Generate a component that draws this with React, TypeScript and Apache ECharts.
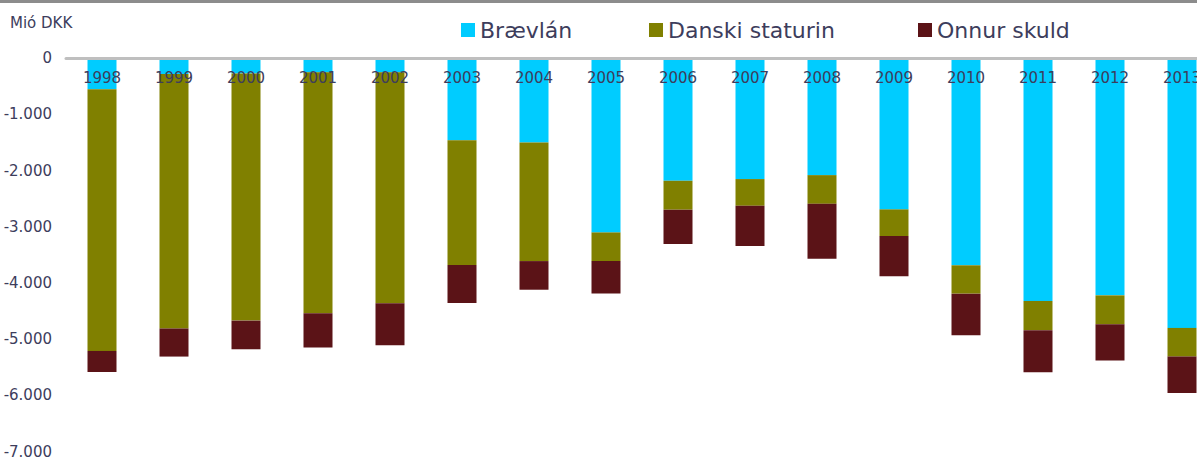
import React, { useEffect, useRef } from "react";
import * as echarts from "echarts";

const years = ["1998","1999","2000","2001","2002","2003","2004","2005","2006","2007","2008","2009","2010","2011","2012","2013"];
const braevlan = [-550, -280, -270, -250, -250, -1460, -1500, -3100, -2180, -2150, -2080, -2690, -3685, -4320, -4220, -4800];
const danskiStaturin = [-4660, -4530, -4400, -4290, -4110, -2220, -2110, -510, -515, -475, -510, -475, -505, -520, -515, -510];
const onnurSkuld = [-375, -500, -510, -610, -750, -675, -510, -575, -610, -715, -980, -715, -740, -750, -645, -650];
const yTickValues = [0, -1000, -2000, -3000, -4000, -5000, -6000, -7000];
const yTickLabels = ["0", "-1.000", "-2.000", "-3.000", "-4.000", "-5.000", "-6.000", "-7.000"];
const seriesNames = ["Brævlán", "Danski staturin", "Onnur skuld"];
const seriesColors = ["#00CCFF", "#808000", "#5B1317"];

const FONT = "DejaVu Sans";
const TEXT = "#3D3D5C";

export default function App() {
  const ref = useRef<HTMLDivElement>(null);
  useEffect(() => {
    if (!ref.current) return;
    const chart = echarts.init(ref.current, null, { renderer: "svg" });
    const values = [braevlan, danskiStaturin, onnurSkuld];
    const legendLefts = [461, 649, 918];
    chart.setOption({
      animation: false,
      backgroundColor: "#ffffff",
      textStyle: { fontFamily: FONT },
      grid: { left: 66, right: 0, top: 58.3, bottom: 6.7, containLabel: false },
      legend: seriesNames.map((n, i) => ({
        data: [n],
        left: legendLefts[i],
        top: 19,
        padding: 0,
        itemWidth: 14,
        itemHeight: 14,
        icon: "rect",
        selectedMode: false,
        textStyle: { fontFamily: FONT, fontSize: 22, color: TEXT, lineHeight: 22 },
      })),
      xAxis: {
        type: "category",
        data: years,
        position: "top",
        z: 10,
        axisLine: { onZero: false, lineStyle: { color: "#BFBFBF", width: 3 } },
        axisTick: { inside: false, length: 5, alignWithLabel: false, lineStyle: { color: "#BFBFBF", width: 2 } },
        axisLabel: { inside: true, margin: 12, fontFamily: FONT, fontSize: 15, color: TEXT, interval: 0 },
        splitLine: { show: false },
      },
      yAxis: {
        type: "value",
        min: -7000,
        max: 0,
        interval: 1000,
        axisLine: { show: false },
        axisTick: { show: false },
        splitLine: { show: false },
        axisLabel: {
          margin: 14,
          fontFamily: FONT,
          fontSize: 15,
          color: TEXT,
          formatter: (v: number) => {
            const idx = yTickValues.indexOf(v);
            return idx >= 0 ? yTickLabels[idx] : String(v);
          },
        },
      },
      series: seriesNames.map((n, i) => ({
        name: n,
        type: "bar",
        stack: "total",
        barWidth: 29,
        data: values[i],
        itemStyle: { color: seriesColors[i] },
      })),
      graphic: [
        { type: "rect", left: 0, top: 0, shape: { width: 1218, height: 3 }, style: { fill: "#8C8C8C" }, z: 100 },
        { type: "text", left: 10, top: 15, style: { text: "Mió DKK", font: `15px '${FONT}'`, fill: TEXT } },
      ],
    });
    return () => chart.dispose();
  }, []);
  return (
    <div style={{ position: "fixed", left: 0, top: 0, width: 1197, height: 459, overflow: "hidden", background: "#fff" }}>
      <div ref={ref} style={{ position: "absolute", left: 0, top: 0, width: 1218, height: 459 }} />
    </div>
  );
}
